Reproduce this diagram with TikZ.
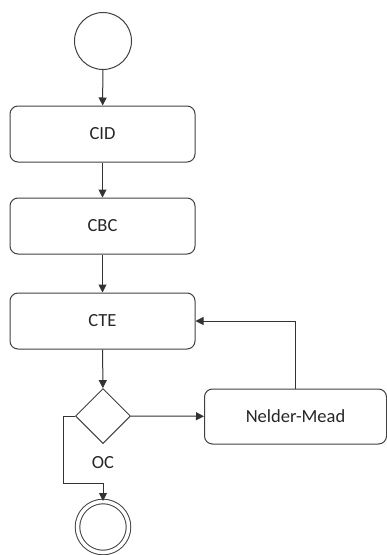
\documentclass[tikz,border=0pt]{standalone}
\usepackage{fontspec}
\setmainfont{Carlito}
\usetikzlibrary{shapes.geometric,arrows.meta}

\tikzset{
  stepbox/.style={draw=black!75, line width=1pt, rounded corners=8pt,
    minimum width=185pt, minimum height=56pt, inner sep=0pt},
  startnode/.style={draw=black!75, line width=1pt, circle, minimum size=57pt, inner sep=0pt},
  stopnode/.style={draw=black!75, line width=1pt, circle, double, double distance=3.5pt,
    minimum size=51pt, inner sep=0pt},
  decision/.style={draw=black!75, line width=1pt, diamond, minimum width=55pt,
    minimum height=55pt, inner sep=0pt},
  flow/.style={draw=black!80, line width=1pt, -{Triangle[length=8pt,width=8pt]}}
}

\begin{document}
\begin{tikzpicture}[x=1pt, y=-1pt, font=\fontsize{18.5}{22}\selectfont, text=black!85]
    \useasboundingbox (0,0) rectangle (387,555);
    \node[startnode] (start) at (103, 41) {};
    \node[stepbox] (cid) at (102.5, 134) {CID};
    \node[stepbox] (cbc) at (102.5, 226) {CBC};
    \node[stepbox] (cte) at (102.5, 321) {CTE};
    \node[decision] (oc) at (103, 416) {};
    \node (oclabel) at (103, 463) {OC};
    \node[stepbox, minimum width=182pt, minimum height=55pt] (nm) at (295.5, 416.5) {Nelder-Mead};
    \node[stopnode] (stop) at (103, 527) {};
    \coordinate (bend) at (63, 483);
    \draw [flow] (start) to (cid);
    \draw [flow] (cid) to (cbc);
    \draw [flow] (cbc) to (cte);
    \draw [flow] (cte) to (oc);
    \draw [flow] (oc) to (nm);
    \draw [flow] (nm.north) |- (cte.east);
    \draw [flow] (oc.west) -| (bend) -| (stop.north);
\end{tikzpicture}
\end{document}
